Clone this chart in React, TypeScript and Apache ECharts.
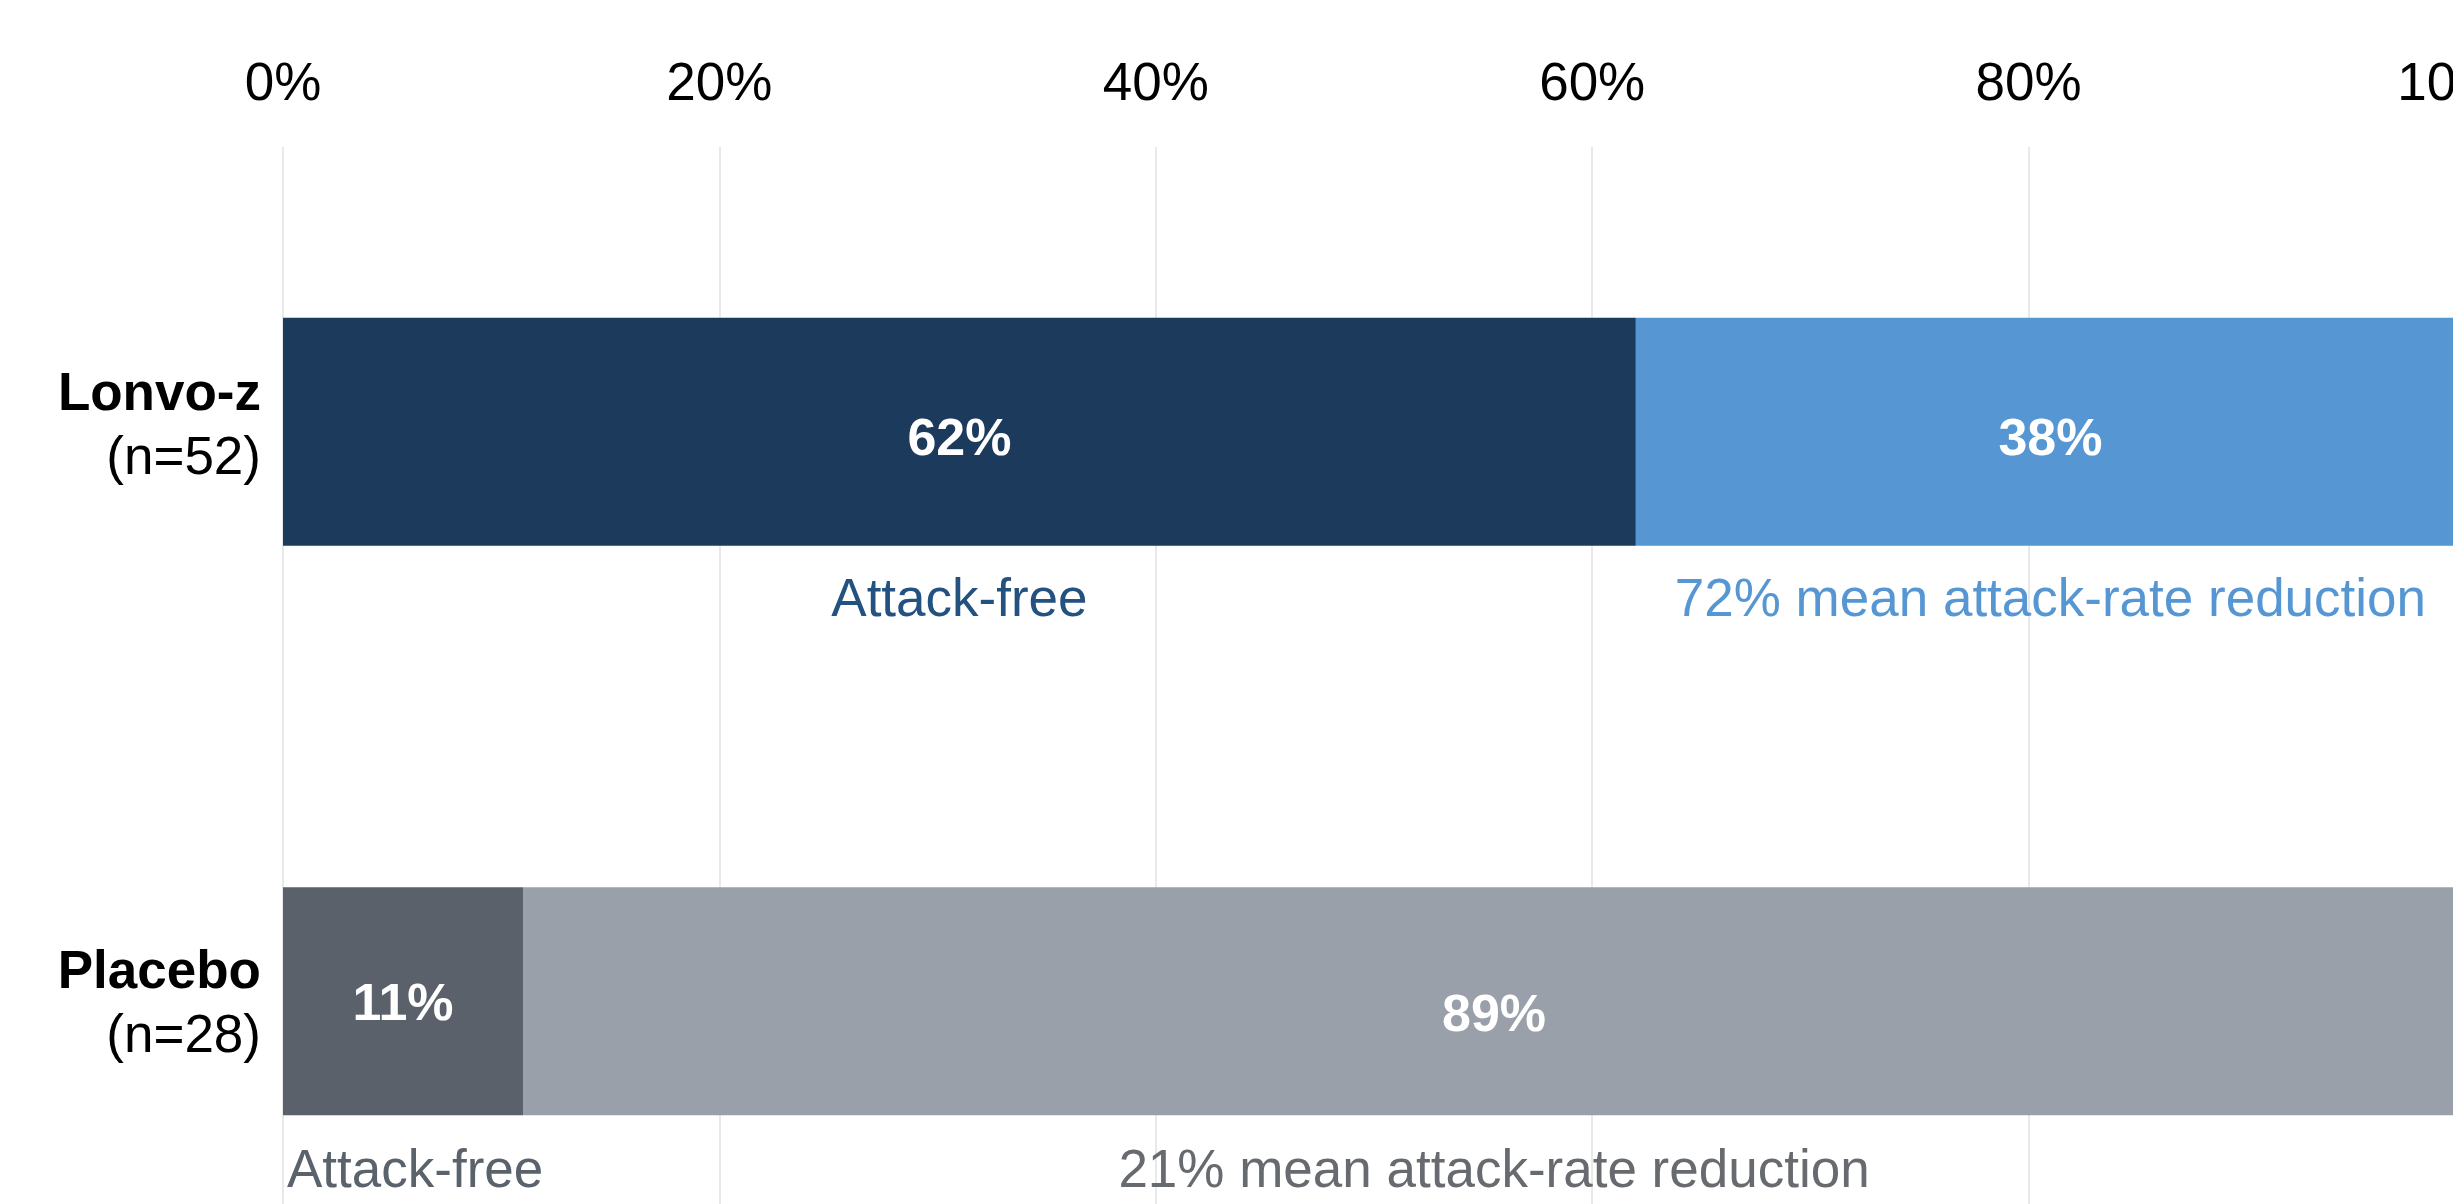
import React, { useEffect, useRef } from "react";
import * as echarts from "echarts";

const categories = ["Lonvo-z", "Placebo"];
const groupSizes = ["(n=52)", "(n=28)"];
const attackFree = [62, 11];
const notAttackFree = [38, 89];
const leftSubLabels = ["Attack-free", "Attack-free"];
const rightSubLabels = ["72% mean attack-rate reduction", "21% mean attack-rate reduction"];
const xTicks = [0, 20, 40, 60, 80, 100];

const darkColors = ["#1b3a5c", "#5a616b"];
const lightColors = ["#5596d3", "#99a0aa"];
const leftTextColors = ["#235180", "#5a626c"];
const rightTextColors = ["#5596d3", "#676a6e"];
const inBarOffsetsDark = [5, 1];
const inBarOffsetsLight = [5, 12];

const FONT = "'Liberation Sans', Arial, Helvetica, sans-serif";

export default function App() {
  const ref = useRef<HTMLDivElement>(null);

  useEffect(() => {
    if (!ref.current) return;
    const chart = echarts.init(ref.current, null, { renderer: "svg" });

    const option: any = {
      animation: false,
      backgroundColor: "#ffffff",
      textStyle: { fontFamily: FONT },
      grid: {
        left: 283,
        top: 147,
        width: 2182,
        height: 1139,
        containLabel: false,
        outerBoundsMode: "none",
      },
      xAxis: {
        type: "value",
        position: "top",
        min: xTicks[0],
        max: xTicks[xTicks.length - 1],
        interval: xTicks[1] - xTicks[0],
        axisLine: { show: false },
        axisTick: { show: false },
        splitLine: { show: true, lineStyle: { color: "#e2e2e2", width: 1.5 } },
        axisLabel: {
          formatter: "{value}%",
          fontSize: 53,
          color: "#000000",
          fontFamily: FONT,
          margin: 66,
          verticalAlign: "middle",
          hideOverlap: false,
        },
      },
      yAxis: {
        type: "category",
        inverse: true,
        data: categories,
        axisLine: { show: false },
        axisTick: { show: false },
        splitLine: { show: false },
        axisLabel: {
          margin: 22,
          align: "right",
          formatter: (v: string) => {
            const i = categories.indexOf(v);
            return i === 0
              ? `{b|${v}}\n{n|${groupSizes[i]}}\n{s| }`
              : `{b|${v}}\n{n|${groupSizes[i]}}`;
          },
          rich: {
            b: { fontSize: 53, fontWeight: "bold", color: "#000", lineHeight: 64, fontFamily: FONT, align: "right" },
            n: { fontSize: 53, color: "#000", lineHeight: 64, fontFamily: FONT, align: "right" },
            s: { fontSize: 2, lineHeight: 16, align: "right" },
          },
        },
      },
      series: [
        {
          name: "Attack-free",
          type: "bar",
          stack: "main",
          barWidth: "40%",
          barGap: "-100%",
          data: attackFree.map((v, i) => ({
            value: v,
            label: { offset: [0, inBarOffsetsDark[i]] },
            itemStyle: { color: darkColors[i] },
          })),
          label: {
            show: true,
            position: "inside",
            formatter: "{c}%",
            color: "#ffffff",
            fontWeight: "bold",
            fontSize: 52,
            fontFamily: FONT,
          },
        },
        {
          name: "Not attack-free",
          type: "bar",
          stack: "main",
          barWidth: "40%",
          barGap: "-100%",
          data: notAttackFree.map((v, i) => ({
            value: v,
            label: { offset: [0, inBarOffsetsLight[i]] },
            itemStyle: { color: lightColors[i] },
          })),
          label: {
            show: true,
            position: "inside",
            formatter: "{c}%",
            color: "#ffffff",
            fontWeight: "bold",
            fontSize: 52,
            fontFamily: FONT,
          },
        },
        {
          name: "sub-left",
          type: "bar",
          stack: "sub",
          barWidth: "40%",
          barGap: "-100%",
          silent: true,
          itemStyle: { color: "rgba(0,0,0,0)" },
          data: attackFree.map((v, i) => ({
            value: v,
            label:
              i === 1
                ? { position: ["0%", "100%"], align: "left", offset: [4, 53], color: leftTextColors[i] }
                : { position: ["50%", "100%"], align: "center", offset: [0, 52], color: leftTextColors[i] },
          })),
          label: {
            show: true,
            verticalAlign: "middle",
            fontSize: 53,
            fontFamily: FONT,
            formatter: (p: any) => leftSubLabels[p.dataIndex],
          },
        },
        {
          name: "sub-right",
          type: "bar",
          stack: "sub",
          barWidth: "40%",
          barGap: "-100%",
          silent: true,
          itemStyle: { color: "rgba(0,0,0,0)" },
          data: notAttackFree.map((v, i) => ({
            value: v,
            label: {
              position: ["50%", "100%"],
              align: "center",
              offset: [0, i === 1 ? 53 : 52],
              color: rightTextColors[i],
            },
          })),
          label: {
            show: true,
            verticalAlign: "middle",
            fontSize: 53,
            fontFamily: FONT,
            formatter: (p: any) => rightSubLabels[p.dataIndex],
          },
        },
      ],
    };

    chart.setOption(option);
    return () => chart.dispose();
  }, []);

  return (
    <div
      ref={ref}
      style={{ position: "fixed", left: 0, top: 0, width: 2453, height: 1204, background: "#fff" }}
    />
  );
}
